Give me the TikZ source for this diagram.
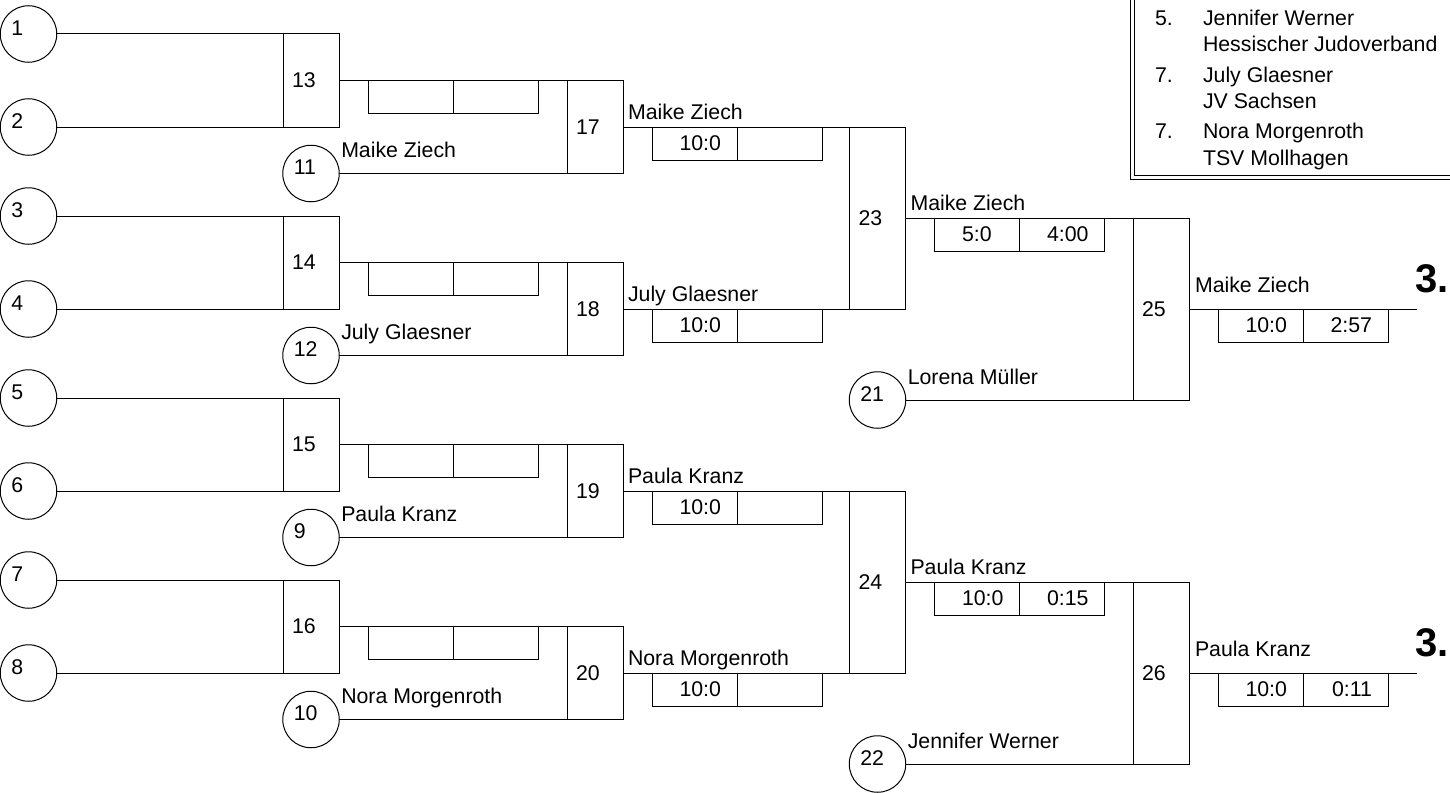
\documentclass[tikz,border=0pt]{standalone}
\usepackage{fontspec}
\setmainfont{Liberation Sans}
\begin{document}
\begin{tikzpicture}[x=1pt,y=-1pt,line width=1pt,
  every node/.style={font=\fontsize{21.3}{25.6}\selectfont,inner sep=0pt,outer sep=0pt},
  pc/.style={draw,circle,minimum size=56.5pt},
  pnum/.style={anchor=west},
  mbox/.style={draw,rectangle,minimum width=56pt,text width=38pt,inner xsep=9pt,align=left},
  scell/.style={draw,rectangle,minimum width=85pt,minimum height=33pt,text width=53pt,inner xsep=16pt,align=right},
  pname/.style={anchor=base west},
  plc/.style={font=\fontsize{40}{48}\selectfont\bfseries,anchor=base west}]
\useasboundingbox (0,0) rectangle (1450,792);
\clip (0,0) rectangle (1450,792);

% legend box
\draw (1130,-5) rectangle (1460,179.5);
\draw (1134,-5) rectangle (1456,175);
\node[pname] (l1) at (1155,26) {5.};
\node[pname] (l1n) at (1203,26) {Jennifer Werner};
\node[pname] (l1c) at (1203,52) {Hessischer Judoverband};
\node[pname] (l2) at (1155,82) {7.};
\node[pname] (l2n) at (1203,82) {July Glaesner};
\node[pname] (l2c) at (1203,108) {JV Sachsen};
\node[pname] (l3) at (1155,138) {7.};
\node[pname] (l3n) at (1203,138) {Nora Morgenroth};
\node[pname] (l3c) at (1203,165) {TSV Mollhagen};

% first and second rounds
\foreach \g/\a/\b/\c/\r/\q/\w/\sc in {0/1/2/11/13/17/Maike Ziech/10:0, 1/3/4/12/14/18/July Glaesner/10:0, 2/5/6/9/15/19/Paula Kranz/10:0, 3/7/8/10/16/20/Nora Morgenroth/10:0}{
  \pgfmathsetmacro\t{34+182*\g}
  \node[pc] (c\a) at (28.5,\t) {};
  \node[pnum] (n\a) at ([xshift=11pt,yshift=6pt]c\a.west) {\a};
  \node[pc] (c\b) at (28.5,\t+93) {};
  \node[pnum] (n\b) at ([xshift=11pt,yshift=6pt]c\b.west) {\b};
  \node[pc] (c\c) at (311,\t+139.5) {};
  \node[pnum] (n\c) at ([xshift=11pt,yshift=6pt]c\c.west) {\c};
  \node[mbox,minimum height=93pt] (m\r) at (311,\t+46.5) {\r};
  \node[mbox,minimum height=93pt] (m\q) at (595,\t+93) {\q};
  \draw (c\a.east) -- (m\r.north west);
  \draw (c\b.east) -- (m\r.south west);
  \draw (m\r.east) -- (m\q.north west);
  \draw (c\c.east) -- (m\q.south west);
  \node[scell,anchor=north west] (s\r a) at ([xshift=29pt]m\r.east) {};
  \node[scell,anchor=west] (s\r b) at (s\r a.east) {};
  \node[pname] (w\c) at ([xshift=2pt,yshift=16pt]c\c.east) {\w};
  \node[pname] (w\q) at ([xshift=5pt,yshift=8pt]m\q.east) {\w};
  \node[scell,anchor=north west] (s\q a) at ([xshift=29pt]m\q.east) {\sc};
  \node[scell,anchor=west] (s\q b) at (s\q a.east) {};
}

% third round
\node[mbox,minimum height=182pt] (m23) at (877.5,218) {23};
\node[mbox,minimum height=182pt] (m24) at (877.5,582) {24};
\draw (m17.east) -- (m23.north west);
\draw (m18.east) -- (m23.south west);
\draw (m19.east) -- (m24.north west);
\draw (m20.east) -- (m24.south west);
\node[pname] (w23) at ([xshift=5pt,yshift=8pt]m23.east) {Maike Ziech};
\node[pname] (w24) at ([xshift=5pt,yshift=8pt]m24.east) {Paula Kranz};
\node[scell,anchor=north west] (s23a) at ([xshift=29pt]m23.east) {5:0\hphantom{0}};
\node[scell,anchor=west] (s23b) at (s23a.east) {4:00};
\node[scell,anchor=north west] (s24a) at ([xshift=29pt]m24.east) {10:0};
\node[scell,anchor=west] (s24b) at (s24a.east) {0:15};

% repechage entrants
\node[pc] (c21) at (877.5,400) {};
\node[pnum] (n21) at ([xshift=11pt,yshift=6pt]c21.west) {21};
\node[pc] (c22) at (877.5,764) {};
\node[pnum] (n22) at ([xshift=11pt,yshift=6pt]c22.west) {22};
\node[pname] (w21) at ([xshift=2pt,yshift=16pt]c21.east) {Lorena Müller};
\node[pname] (w22) at ([xshift=2pt,yshift=16pt]c22.east) {Jennifer Werner};

% fourth round
\node[mbox,minimum height=182pt] (m25) at (1161,309) {25};
\node[mbox,minimum height=182pt] (m26) at (1161,673) {26};
\draw (m23.east) -- (m25.north west);
\draw (c21.east) -- (m25.south west);
\draw (m24.east) -- (m26.north west);
\draw (c22.east) -- (m26.south west);
\coordinate (e25) at ([xshift=228pt]m25.east);
\coordinate (e26) at ([xshift=228pt]m26.east);
\draw (m25.east) -- (e25);
\draw (m26.east) -- (e26);
\node[pname] (w25) at ([xshift=6pt,yshift=17pt]m25.east) {Maike Ziech};
\node[pname] (w26) at ([xshift=6pt,yshift=17pt]m26.east) {Paula Kranz};
\node[scell,anchor=north west] (s25a) at ([xshift=29pt]m25.east) {10:0};
\node[scell,anchor=west] (s25b) at (s25a.east) {2:57};
\node[scell,anchor=north west] (s26a) at ([xshift=29pt]m26.east) {10:0};
\node[scell,anchor=west] (s26b) at (s26a.east) {0:11};
\node[plc] (p25) at ([xshift=-2pt,yshift=17pt]e25) {3.};
\node[plc] (p26) at ([xshift=-2pt,yshift=17pt]e26) {3.};
\end{tikzpicture}
\end{document}
